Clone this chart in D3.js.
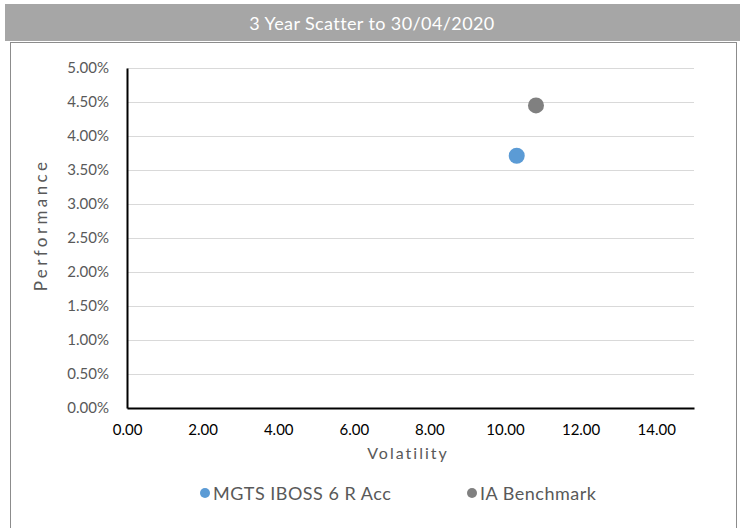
<!DOCTYPE html>
<html>
<head>
<meta charset="utf-8">
<script src="https://cdn.jsdelivr.net/npm/d3@7"></script>
<style>
  body { margin: 0; background: #fff; }
  svg { display: block; }
</style>
</head>
<body>
<div id="chart"></div>
<script>
// data
const seriesNames = ['MGTS IBOSS 6 R Acc', 'IA Benchmark'];
const seriesColors = ['#5b9bd5', '#808080'];
const volatility = [10.31, 10.82];
const performance = [0.0371, 0.0445];
const xTicks = [0, 2, 4, 6, 8, 10, 12, 14];
const yTicks = [0, 0.005, 0.01, 0.015, 0.02, 0.025, 0.03, 0.035, 0.04, 0.045, 0.05];

const width = 745, height = 528;
const font = 'Lato, "Open Sans", sans-serif';

const svg = d3.select('#chart').append('svg')
  .attr('width', width)
  .attr('height', height);

// title bar
svg.append('rect')
  .attr('x', 5).attr('y', 4).attr('width', 735).attr('height', 37)
  .attr('fill', '#a6a6a6');
svg.append('text')
  .attr('x', 372).attr('y', 23)
  .attr('text-anchor', 'middle').attr('dominant-baseline', 'central')
  .attr('fill', '#fff').attr('font-family', font).attr('font-size', 18)
  .attr('letter-spacing', 0.4)
  .text('3 Year Scatter to 30/04/2020');

// chart box
svg.append('rect')
  .attr('x', 10.5).attr('y', 42.5).attr('width', 726).attr('height', 500)
  .attr('fill', 'none').attr('stroke', '#8c8c8c').attr('stroke-width', 1);

let x = d3.scaleLinear().domain([0, 15]).range([127, 694]);
let y = d3.scaleLinear().domain([0, 0.05]).range([408, 68]);

// gridlines
svg.append('g').selectAll('line')
  .data(yTicks.filter(d => d > 0))
  .join('line')
  .attr('x1', x(0)).attr('x2', x(15))
  .attr('y1', d => Math.round(y(d)) + 0.5).attr('y2', d => Math.round(y(d)) + 0.5)
  .attr('stroke', '#d9d9d9').attr('stroke-width', 1);

// axes
const yAxis = svg.append('g')
  .attr('transform', 'translate(' + x(0) + ',0)')
  .call(d3.axisLeft(y).tickValues(yTicks).tickSize(0).tickPadding(18).tickFormat(d3.format('.2%')));
yAxis.select('.domain').attr('stroke', '#000').attr('stroke-width', 2);
yAxis.selectAll('text').attr('fill', '#595959').attr('font-family', font).attr('font-size', 15);

const xAxis = svg.append('g')
  .attr('transform', 'translate(0,' + y(0) + ')')
  .call(d3.axisBottom(x).tickValues(xTicks).tickSize(0).tickPadding(16).tickFormat(d3.format('.2f')));
xAxis.select('.domain').attr('stroke', '#000').attr('stroke-width', 2);
xAxis.selectAll('text').attr('fill', '#000').attr('font-family', font).attr('font-size', 15);

// axis titles
svg.append('text')
  .attr('x', 408).attr('y', 459)
  .attr('text-anchor', 'middle')
  .attr('fill', '#595959').attr('font-family', font).attr('font-size', 16)
  .attr('letter-spacing', 2)
  .text('Volatility');
svg.append('text')
  .attr('transform', 'translate(47,225) rotate(-90)')
  .attr('text-anchor', 'middle')
  .attr('fill', '#595959').attr('font-family', font).attr('font-size', 17)
  .attr('letter-spacing', 3.4)
  .text('Performance');

// points
svg.append('g').selectAll('circle')
  .data(seriesNames)
  .join('circle')
  .attr('cx', (d, i) => x(volatility[i]))
  .attr('cy', (d, i) => y(performance[i]))
  .attr('r', 8)
  .attr('fill', (d, i) => seriesColors[i]);

// legend
const legendX = [205, 472];
const legend = svg.append('g').selectAll('g')
  .data(seriesNames)
  .join('g')
  .attr('transform', (d, i) => 'translate(' + legendX[i] + ',493)');
legend.append('circle')
  .attr('r', 5)
  .attr('fill', (d, i) => seriesColors[i]);
legend.append('text')
  .attr('x', 8).attr('dominant-baseline', 'central')
  .attr('fill', '#595959').attr('font-family', font).attr('font-size', 18)
  .attr('letter-spacing', 0.5)
  .text(d => d);
</script>
</body>
</html>
